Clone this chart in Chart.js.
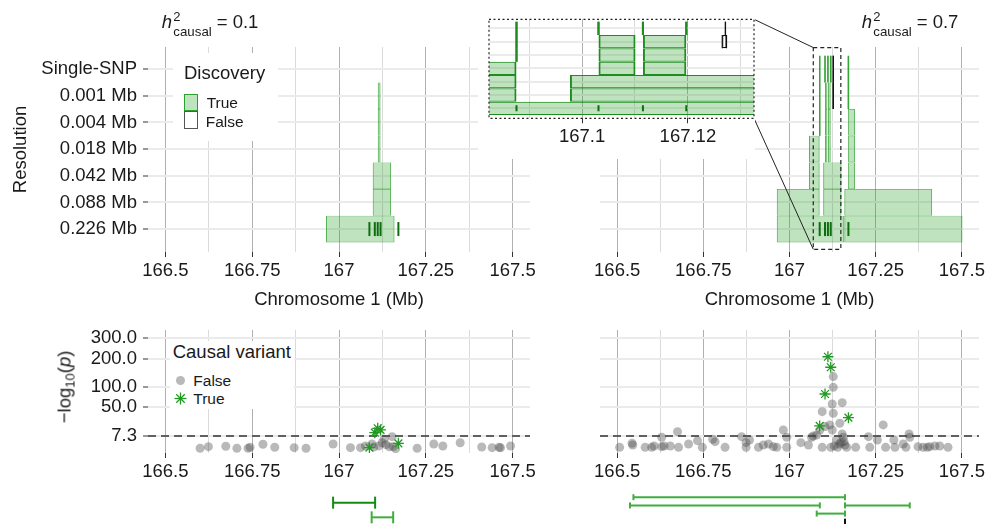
<!DOCTYPE html>
<html>
<head>
<meta charset="utf-8">
<title>Fine-mapping discoveries on chromosome 1</title>
<script src="https://cdn.jsdelivr.net/npm/chart.js@4/dist/chart.umd.min.js"></script>
<style>
  html, body { margin: 0; padding: 0; width: 985px; height: 524px; overflow: hidden; background: #fff;
    font-family: 'Liberation Sans', Arial, Helvetica, sans-serif; color: #1a1a1a; }
  canvas { position: absolute; }
  .t { position: absolute; white-space: nowrap; line-height: 1; }
  .bg { position: absolute; background: #fff; }
  .key { position: absolute; box-sizing: border-box; }
</style>
</head>
<body>
<canvas id="topLow" width="560" height="320" style="left:0;top:0"></canvas>
<canvas id="topHigh" width="445" height="320" style="left:560px;top:0"></canvas>
<canvas id="zoomHigh" width="300" height="165" style="left:470px;top:0"></canvas>
<canvas id="pLow" width="560" height="190" style="left:0;top:300px"></canvas>
<canvas id="pHigh" width="445" height="190" style="left:560px;top:300px"></canvas>
<canvas id="ciLow" width="560" height="60" style="left:0;top:480px"></canvas>
<canvas id="ciHigh" width="445" height="60" style="left:560px;top:480px"></canvas>

<!-- panel titles -->
<span class="t" style="left:161.7px;top:12.6px;font-size:18.5px;font-style:italic">h</span>
<span class="t" style="left:173.3px;top:9.7px;font-size:13px">2</span>
<span class="t" style="left:173.3px;top:25.4px;font-size:13.3px">causal</span>
<span class="t" style="left:216.7px;top:12.6px;font-size:18.5px">= 0.1</span>

<span class="t" style="left:861.7px;top:12.6px;font-size:18.5px;font-style:italic">h</span>
<span class="t" style="left:873.3px;top:9.7px;font-size:13px">2</span>
<span class="t" style="left:873.3px;top:25.4px;font-size:13.3px">causal</span>
<span class="t" style="left:916.7px;top:12.6px;font-size:18.5px">= 0.7</span>

<!-- Discovery key -->
<div class="bg" style="left:173px;top:53px;width:105px;height:88px"></div>
<span class="t" style="left:184px;top:64.2px;font-size:18.5px">Discovery</span>
<div class="key" style="left:184.3px;top:93.5px;width:14px;height:17.8px;background:rgba(44,160,44,0.3);border:1px solid rgb(44,160,44)"></div>
<div class="key" style="left:184.3px;top:111.3px;width:14px;height:17.8px;background:#fff;border:1px solid #555"></div>
<span class="t" style="left:206.7px;top:95.2px;font-size:15.5px">True</span>
<span class="t" style="left:205.7px;top:113.6px;font-size:15.5px">False</span>

<!-- Causal variant key -->
<div class="bg" style="left:170px;top:341px;width:124px;height:68px"></div>
<span class="t" style="left:172.7px;top:342.6px;font-size:18.5px">Causal variant</span>
<div class="key" style="left:175.5px;top:375.5px;width:9px;height:9px;border-radius:50%;background:rgba(70,70,70,0.38)"></div>
<svg width="13" height="13" viewBox="-6.5 -6.5 13 13" style="position:absolute;left:173.5px;top:392.2px">
  <g stroke="#229a22" stroke-width="1.3">
    <line x1="-6" y1="0" x2="6" y2="0"/><line x1="0" y1="-6" x2="0" y2="6"/>
    <line x1="-4.24" y1="-4.24" x2="4.24" y2="4.24"/><line x1="-4.24" y1="4.24" x2="4.24" y2="-4.24"/>
  </g>
</svg>
<span class="t" style="left:193.3px;top:373px;font-size:15.5px">False</span>
<span class="t" style="left:193.3px;top:391.1px;font-size:15.5px">True</span>

<!-- association axis title -->
<div class="t" style="left:66px;top:387px;font-size:18.5px;transform:translate(-50%,-50%) rotate(-90deg)">&minus;log<sub style="font-size:13px;vertical-align:-4px">10</sub>(<i>p</i>)</div>

<script>
// ---------- data ----------
const resolutions = ['Single-SNP', '0.001 Mb', '0.004 Mb', '0.018 Mb', '0.042 Mb', '0.088 Mb', '0.226 Mb'];
const chrTicks = [166.5, 166.75, 167, 167.25, 167.5];
const chrMinorGrid = [166.625, 166.875, 167.125, 167.375];
const zoomTicks = [167.1, 167.12];
const zoomMinorGrid = [167.09, 167.11, 167.13];
const pTicks = [7.3, 50, 100, 200, 300];
const gwThreshold = 7.3;

// causal variant positions (Mb) and their -log10(p) in each scenario
const causalPos = [167.0876, 167.1031, 167.1115, 167.1197, 167.171];
const causalLogPLow = [0.93, 10.2, 14.8, 13, 2.6];
const causalLogPHigh = [17.6, 80, 210, 167, 29.5];

// discovered regions: [resolution, start Mb, end Mb]
const foundLow = [
  ['0.001 Mb', 167.1115, 167.1197],
  ['0.004 Mb', 167.1115, 167.1197],
  ['0.018 Mb', 167.1115, 167.1197],
  ['0.042 Mb', 167.097, 167.150],
  ['0.088 Mb', 167.097, 167.150],
  ['0.226 Mb', 166.9625, 167.160]
];
const foundHigh = [
  ['Single-SNP', 167.0876, 167.0876],
  ['Single-SNP', 167.1031, 167.1031],
  ['Single-SNP', 167.1115, 167.1115],
  ['Single-SNP', 167.1197, 167.1197],
  ['Single-SNP', 167.1710, 167.1710],
  ['0.001 Mb', 167.0876, 167.0876],
  ['0.001 Mb', 167.1031, 167.1101],
  ['0.001 Mb', 167.1115, 167.1197],
  ['0.001 Mb', 167.1710, 167.1710],
  ['0.004 Mb', 167.0876, 167.0876],
  ['0.004 Mb', 167.1031, 167.1101],
  ['0.004 Mb', 167.1115, 167.1197],
  ['0.004 Mb', 167.1700, 167.1900],
  ['0.018 Mb', 167.0565, 167.0876],
  ['0.018 Mb', 167.1031, 167.1101],
  ['0.018 Mb', 167.1115, 167.1197],
  ['0.018 Mb', 167.1700, 167.1900],
  ['0.042 Mb', 167.0565, 167.0876],
  ['0.042 Mb', 167.0977, 167.1510],
  ['0.042 Mb', 167.1700, 167.1900],
  ['0.088 Mb', 166.9630, 167.0876],
  ['0.088 Mb', 167.0977, 167.1510],
  ['0.088 Mb', 167.1590, 167.4140],
  ['0.226 Mb', 166.9630, 167.1590],
  ['0.226 Mb', 167.1590, 167.5020]
];
const falseHigh = [
  ['Single-SNP', 167.1271, 167.1271],
  ['0.001 Mb', 167.1265, 167.1273]
];
// genomic window enlarged in the inset
const zoomWindow = [167.069, 167.149];

// non-causal SNPs: [position Mb, -log10(p)]
const snpsLow = [
  [166.600, 0.77], [166.624, 1.24], [166.674, 1.38], [166.706, 0.77], [166.738, 0.77], [166.744, 1.05],
  [166.781, 2.17], [166.815, 1.05], [166.871, 0.93], [166.905, 0.77], [166.983, 2.3], [167.033, 0.93],
  [167.062, 0.93], [167.076, 1.49], [167.095, 2.3], [167.100, 1.1], [167.115, 1.5], [167.124, 2.9],
  [167.130, 5.0], [167.135, 2.0], [167.145, 1.2], [167.153, 6.8], [167.156, 1.24], [167.163, 0.67],
  [167.225, 0.77], [167.273, 2.3], [167.299, 1.49], [167.349, 2.9], [167.411, 1.15], [167.441, 0.93],
  [167.461, 1.05], [167.465, 0.9], [167.494, 1.49]
];
const snpsHigh = [
  [166.507, 1.04], [166.543, 2.61], [166.545, 1.87], [166.581, 1.04], [166.600, 1.04], [166.607, 1.49],
  [166.629, 6.29], [166.629, 1.25], [166.636, 1.49], [166.654, 1.49], [166.675, 11.2], [166.678, 1.04],
  [166.707, 2.30], [166.733, 4.05], [166.747, 1.04], [166.777, 4.89], [166.784, 3.47], [166.813, 1.04],
  [166.861, 6.80], [166.874, 2.94], [166.874, 1.04], [166.884, 4.46], [166.910, 1.04], [166.924, 1.87],
  [166.939, 2.30], [166.953, 1.25], [166.963, 1.04], [166.982, 12.95], [166.992, 6.29], [166.992, 1.04],
  [167.033, 2.94], [167.055, 1.87], [167.064, 6.29], [167.069, 7.33], [167.079, 8.15], [167.088, 12.95],
  [167.095, 1.04], [167.095, 40], [167.103, 16.8], [167.117, 18.9], [167.120, 1.04], [167.124, 55.7],
  [167.124, 12.95], [167.127, 98.8], [167.127, 133], [167.127, 36.9], [167.130, 1.5], [167.137, 4.46],
  [167.140, 1.04], [167.145, 2.3], [167.146, 21.1], [167.150, 3.0], [167.153, 58.7], [167.153, 9.02],
  [167.156, 6.29], [167.158, 3.47], [167.161, 1.87], [167.166, 1.04], [167.192, 1.04], [167.229, 6.80],
  [167.233, 1.04], [167.255, 4.46], [167.272, 18.9], [167.279, 1.04], [167.303, 4.46], [167.306, 1.04],
  [167.330, 2.30], [167.338, 1.04], [167.347, 9.02], [167.349, 6.29], [167.373, 1.25], [167.388, 1.04],
  [167.400, 1.04], [167.407, 1.25], [167.422, 1.49], [167.436, 1.49], [167.460, 1.04]
];

// intervals shown beneath each association panel: [start, end] and the row they sit on
const intervalsLow = [[166.983, 167.104], [167.094, 167.156]];
const intervalRowsLow = [1, 2];
const intervalsHigh = [[166.547, 167.161], [166.537, 167.088], [167.161, 167.349], [167.079, 167.161]];
const intervalRowsHigh = [1, 2, 2, 3];
const falseIntervalsHigh = [[167.161, 167.161]];
const falseIntervalRowsHigh = [4];

// ---------- axis ranges ----------
const chrRange = [166.45, 167.55];
const zoomRange = [167.0824, 167.1325];
const rowRange = [-0.83, 6.86];
const zoomRowRange = [-0.675, 6.75];
const boxRows = [-0.81, 6.76];
const pRange = [0.03, 341];

// ---------- styling ----------
const GRID_ROW = '#ebebeb', GRID_MAJOR = '#b0b0b0', GRID_MINOR = '#dadada', TICK = '#333';
const TRUE_FILL = 'rgba(44,160,44,0.3)';
const RUG = '#0d6e0d', STAR = '#229a22', DOT = 'rgba(70,70,70,0.38)';

Chart.defaults.font.family = "'Liberation Sans', Arial, Helvetica, sans-serif";
Chart.defaults.font.size = 18.5;
Chart.defaults.color = '#1a1a1a';
Chart.defaults.animation = false;
Chart.defaults.responsive = false;
Chart.defaults.events = [];
Chart.defaults.plugins.legend.display = false;
Chart.defaults.plugins.tooltip.enabled = false;

// square-root value axis for -log10(p)
class SqrtScale extends Chart.LinearScale {
  static id = 'sqrt';
  static defaults = {};
  getPixelForValue(value) {
    const lo = Math.sqrt(this.min), hi = Math.sqrt(this.max);
    return this.getPixelForDecimal((Math.sqrt(Math.max(value, 0)) - lo) / (hi - lo));
  }
  getValueForPixel(pixel) {
    const lo = Math.sqrt(this.min), hi = Math.sqrt(this.max);
    const s = lo + this.getDecimalForPixel(pixel) * (hi - lo);
    return s * s;
  }
}
Chart.register(SqrtScale);

const rowIndex = Object.fromEntries(resolutions.map((r, i) => [r, i]));

function chrAxis(major, minor, range, height, title) {
  const all = major.concat(minor).sort((a, b) => a - b);
  const isMajor = c => c.tick && major.includes(c.tick.value);
  return {
    type: 'linear', min: range[0], max: range[1], offset: false, beginAtZero: false,
    afterBuildTicks: s => { s.ticks = all.map(v => ({ value: v })); },
    afterFit: s => { s.height = height; },
    ticks: { autoSkip: false, maxRotation: 0, minRotation: 0, padding: 3,
             callback: v => (major.includes(v) ? String(v) : '') },
    grid: { offset: false, lineWidth: 1, tickLength: 5, tickWidth: 1,
            color: c => (isMajor(c) ? GRID_MAJOR : GRID_MINOR),
            tickColor: c => (isMajor(c) ? TICK : 'rgba(0,0,0,0)') },
    border: { display: false },
    title: title ? { display: true, text: title, padding: { top: 0, bottom: 8.9 } } : { display: false }
  };
}

function rowAxis(range, withLabels, title) {
  return {
    type: 'linear', reverse: true, min: range[0], max: range[1], offset: false,
    afterBuildTicks: s => { s.ticks = resolutions.map((_, i) => ({ value: i })); },
    afterFit: s => { s.width = withLabels ? 148 : 0; },
    ticks: { display: withLabels, padding: 6, callback: v => resolutions[v] },
    grid: { offset: false, color: GRID_ROW, lineWidth: 2, drawTicks: withLabels, tickLength: 5, tickColor: TICK, tickWidth: 1 },
    border: { display: false },
    title: title ? { display: true, text: title, padding: { top: 9.4, bottom: 0 } } : { display: false }
  };
}

function pAxis(withLabels) {
  return {
    type: 'sqrt', min: pRange[0], max: pRange[1],
    afterBuildTicks: s => { s.ticks = pTicks.map(v => ({ value: v })); },
    afterFit: s => { s.width = withLabels ? 148 : 0; },
    ticks: { display: withLabels, padding: 6, callback: v => Number(v).toFixed(1) },
    grid: { color: GRID_ROW, lineWidth: 2, drawTicks: withLabels, tickLength: 5, tickColor: TICK, tickWidth: 1 },
    border: { display: false }
  };
}

const halfRow = c => {
  const y = c.chart.scales.y;
  return Math.abs(y.getPixelForValue(1) - y.getPixelForValue(0)) / 2;
};

function regionDatasets(found, missed, style) {
  const toBar = ([r, s, e]) => ({ x: [s, e], y: rowIndex[r] });
  // regions narrower than a pixel are outlined by their two edges
  const edges = list => list.flatMap(([r, s, e]) =>
    (e - s < 0.001 ? [{ x: s, y: rowIndex[r] }, { x: e, y: rowIndex[r] }] : []));
  const bar = {
    type: 'bar', indexAxis: 'y', grouped: false, barPercentage: 1, categoryPercentage: 1,
    borderSkipped: false, inflateAmount: 0, clip: 0
  };
  const edge = { type: 'scatter', pointStyle: 'line', pointRotation: 90, pointRadius: halfRow, clip: 0 };
  return [
    Object.assign({}, bar, { label: 'True', data: found.map(toBar), backgroundColor: TRUE_FILL,
      borderColor: style.border, borderWidth: style.borderWidth, order: 4 }),
    Object.assign({}, bar, { label: 'False', data: missed.map(toBar), backgroundColor: '#fff',
      borderColor: '#111', borderWidth: 1.2, order: 3 }),
    Object.assign({}, edge, { label: 'True edges', data: edges(found), pointBorderColor: style.border,
      pointBorderWidth: style.edgeWidth, order: 2 }),
    Object.assign({}, edge, { label: 'False edges', data: edges(missed), pointBorderColor: '#111',
      pointBorderWidth: 1.2, order: 1 }),
    { type: 'scatter', label: 'Causal', data: causalPos.map(x => ({ x, y: rowIndex['0.226 Mb'] })),
      pointStyle: 'line', pointRotation: 90, pointRadius: style.rug, pointBorderColor: RUG,
      pointBorderWidth: 2, clip: 0, order: 0 }
  ];
}

const mainStyle = { border: 'rgba(44,160,44,0.8)', borderWidth: { top: 0.6, bottom: 0.6, left: 1, right: 1 },
                    edgeWidth: 1.4, rug: 7 };
const zoomStyle = { border: '#1e8c1e', borderWidth: { top: 1, bottom: 1, left: 2, right: 2 },
                    edgeWidth: 2, rug: 3 };

// ---------- top left: discoveries, h2 = 0.1 ----------
new Chart('topLow', {
  type: 'scatter',
  data: { datasets: regionDatasets(foundLow, [], mainStyle) },
  options: {
    layout: { padding: { top: 47, right: 30, left: 0, bottom: 0 } },
    scales: { x: chrAxis(chrTicks, chrMinorGrid, chrRange, 68, 'Chromosome 1 (Mb)'),
              y: rowAxis(rowRange, true, 'Resolution') }
  }
});

// ---------- inset: enlarged window of the h2 = 0.7 discoveries ----------
const zoomChart = new Chart('zoomHigh', {
  type: 'scatter',
  data: { datasets: regionDatasets(foundHigh, falseHigh, zoomStyle) },
  options: {
    layout: { padding: { top: 19.3, right: 16, left: 19, bottom: 0 } },
    scales: { x: chrAxis(zoomTicks, zoomMinorGrid, zoomRange, 46.7, null),
              y: rowAxis(zoomRowRange, false, null) }
  },
  plugins: [{
    id: 'insetFrame',
    beforeDraw(chart) {
      const { ctx, chartArea: a } = chart;
      ctx.save();
      ctx.fillStyle = '#fff';
      ctx.fillRect(8, 0, a.right + 1 - 8, 159);
      ctx.restore();
    },
    afterDraw(chart) {
      const { ctx, chartArea: a } = chart;
      ctx.save();
      ctx.setLineDash([2, 2.5]);
      ctx.strokeStyle = '#222';
      ctx.lineWidth = 1.2;
      ctx.strokeRect(a.left, a.top, a.right - a.left, a.bottom - a.top);
      ctx.restore();
    }
  }]
});

// ---------- top right: discoveries, h2 = 0.7 ----------
const windowBox = [
  { x: zoomWindow[0], y: boxRows[0] }, { x: zoomWindow[1], y: boxRows[0] },
  { x: zoomWindow[1], y: boxRows[1] }, { x: zoomWindow[0], y: boxRows[1] },
  { x: zoomWindow[0], y: boxRows[0] }
];
new Chart('topHigh', {
  type: 'scatter',
  data: { datasets: regionDatasets(foundHigh, falseHigh, mainStyle).concat([{
    label: 'window', data: windowBox, showLine: true, borderColor: '#222', borderWidth: 1.2,
    borderDash: [4, 3], pointRadius: 0, clip: false, order: -1
  }]) },
  options: {
    layout: { padding: { top: 47, right: 26, left: 40, bottom: 0 } },
    scales: { x: chrAxis(chrTicks, chrMinorGrid, chrRange, 68, 'Chromosome 1 (Mb)'),
              y: rowAxis(rowRange, false, null) }
  },
  plugins: [{
    id: 'insetLinks',
    afterDraw(chart) {
      const { ctx } = chart;
      const a = zoomChart.chartArea;
      const dx = zoomChart.canvas.offsetLeft - chart.canvas.offsetLeft;
      const dy = zoomChart.canvas.offsetTop - chart.canvas.offsetTop;
      const bx = chart.scales.x.getPixelForValue(zoomWindow[0]);
      const by0 = chart.scales.y.getPixelForValue(boxRows[0]);
      const by1 = chart.scales.y.getPixelForValue(boxRows[1]);
      ctx.save();
      ctx.strokeStyle = '#222';
      ctx.lineWidth = 1;
      ctx.beginPath();
      ctx.moveTo(a.right + dx, a.top + dy); ctx.lineTo(bx, by0);
      ctx.moveTo(a.right + dx, a.bottom + dy); ctx.lineTo(bx, by1);
      ctx.stroke();
      ctx.restore();
    }
  }]
});

// ---------- association panels ----------
function pDatasets(snps, causalLogP) {
  return [
    { label: 'True', data: causalPos.map((x, i) => ({ x, y: causalLogP[i] })), pointStyle: 'star',
      pointRadius: 5.5, pointBorderColor: STAR, pointBackgroundColor: 'rgba(0,0,0,0)', pointBorderWidth: 1.3, order: 0 },
    { label: 'False', data: snps.map(([x, y]) => ({ x, y })), pointStyle: 'circle', pointRadius: 4.5,
      pointBackgroundColor: DOT, pointBorderWidth: 0, order: 1 },
    { label: 'Genome-wide threshold', data: chrRange.map(x => ({ x, y: gwThreshold })), showLine: true,
      borderColor: '#333', borderWidth: 1.4, borderDash: [8, 5], pointRadius: 0, order: 2 }
  ];
}

new Chart('pLow', {
  type: 'scatter',
  data: { datasets: pDatasets(snpsLow, causalLogPLow) },
  options: {
    layout: { padding: { top: 30, right: 30, left: 0, bottom: 0 } },
    scales: { x: chrAxis(chrTicks, chrMinorGrid, chrRange, 37, null), y: pAxis(true) }
  }
});
new Chart('pHigh', {
  type: 'scatter',
  data: { datasets: pDatasets(snpsHigh, causalLogPHigh) },
  options: {
    layout: { padding: { top: 30, right: 26, left: 40, bottom: 0 } },
    scales: { x: chrAxis(chrTicks, chrMinorGrid, chrRange, 37, null), y: pAxis(false) }
  }
});

// ---------- intervals under the association panels ----------
function intervalDatasets(list, rows, colors, capRadius) {
  return list.map(([s, e], i) => ({
    label: 'interval ' + (i + 1),
    data: [{ x: s, y: rows[i] }, { x: e, y: rows[i] }],
    showLine: true, borderColor: colors[i], borderWidth: 2,
    pointStyle: 'line', pointRotation: 90, pointRadius: capRadius,
    pointBorderColor: colors[i], pointBorderWidth: 2, clip: false
  }));
}
const hiddenAxes = (rows) => ({
  x: { type: 'linear', min: chrRange[0], max: chrRange[1], display: false },
  y: { type: 'linear', min: 0, max: rows, reverse: true, display: false }
});

new Chart('ciLow', {
  type: 'scatter',
  data: { datasets: intervalDatasets(intervalsLow, intervalRowsLow, ['#128c12', '#3fae3f'], 6) },
  options: { layout: { padding: { top: 4.9, right: 30, left: 148, bottom: 5.9 } }, scales: hiddenAxes(3) }
});
new Chart('ciHigh', {
  type: 'scatter',
  data: { datasets: intervalDatasets(intervalsHigh, intervalRowsHigh, ['#3fae3f', '#3fae3f', '#3fae3f', '#3fae3f'], 3)
    .concat(intervalDatasets(falseIntervalsHigh, falseIntervalRowsHigh, ['#111'], 3)) },
  options: { layout: { padding: { top: 9, right: 26, left: 40, bottom: 10 } }, scales: hiddenAxes(5) }
});
</script>
</body>
</html>
